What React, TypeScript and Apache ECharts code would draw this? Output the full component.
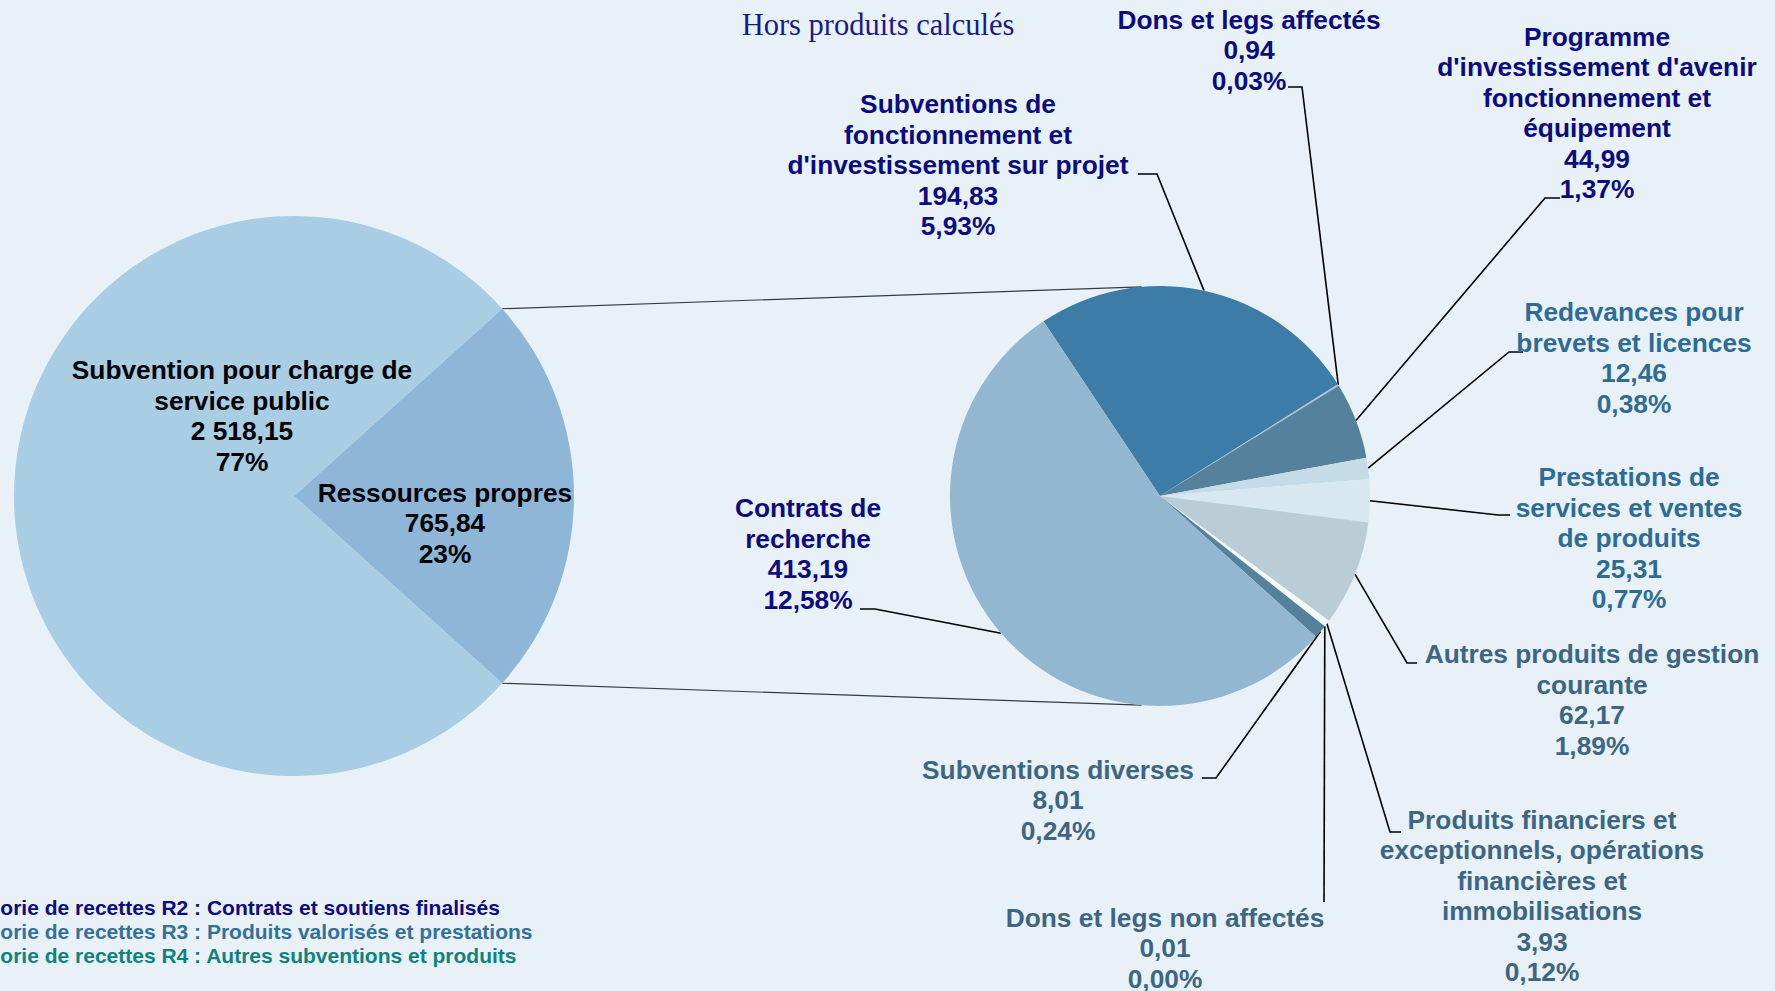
import React, { useEffect, useRef } from 'react';
import * as echarts from 'echarts';

// ---- Data ----
const MAIN_NAMES = ['Ressources propres', 'Subvention pour charge de\nservice public'];
const MAIN_VALUES = [765.84, 2518.15];
const MAIN_COLORS = ['#8DB6D7', '#A9CDE3'];

const DETAIL_NAMES = [
  "Subventions de\nfonctionnement et\nd'investissement sur projet",
  'Dons et legs affectés',
  "Programme\nd'investissement d'avenir\nfonctionnement et\néquipement",
  'Redevances pour\nbrevets et licences',
  'Prestations de\nservices et ventes\nde produits',
  'Autres produits de gestion\ncourante',
  'Produits financiers et\nexceptionnels, opérations\nfinancières et\nimmobilisations',
  'Dons et legs non affectés',
  'Subventions diverses',
  'Contrats de\nrecherche',
];
const DETAIL_VALUES = [194.83, 0.94, 44.99, 12.46, 25.31, 62.17, 3.93, 0.01, 8.01, 413.19];
const DETAIL_GROUPS = ['R2', 'R2', 'R2', 'R3', 'R3', 'R4', 'R4', 'R4', 'R4', 'R2'];
const DETAIL_COLORS = [
  '#3D7CA7', '#A3C4DA', '#55819D', '#C5DBE7', '#D8E8F1',
  '#BACCD5', '#F4F8FA', '#F4F8FA', '#55819D', '#93B7D0',
];

const LEGEND_LINES = [
  'Catégorie de recettes R2 : Contrats et soutiens finalisés',
  'Catégorie de recettes R3 : Produits valorisés et prestations',
  'Catégorie de recettes R4 : Autres subventions et produits',
];
const TITLE = 'Hors produits calculés';

// ---- Styles / layout ----
const GROUP_LABEL_COLORS: Record<string, string> = { R2: '#0B0B7F', R3: '#2E6C95', R4: '#3D6682' };
const LEGEND_COLORS = ['#0B0B7F', '#33709A', '#0F827E'];
const FONT = "'Liberation Sans', Arial, sans-serif";
const BG = '#E8F1F8';

const LEFT = { cx: 294, cy: 496, r: 280 };
const RIGHT = { cx: 1160, cy: 496, r: 210, startAngle: 123.7 };

const LEFT_LABEL_POS = [
  { x: 445, y: 523 },
  { x: 242, y: 416 },
];
const RIGHT_LABEL_POS = [
  { x: 958, y: 165, elbow: [1157, 174], end: [1138, 174] },
  { x: 1249, y: 50, elbow: [1302, 87], end: [1288, 87] },
  { x: 1597, y: 113, elbow: [1545, 198], end: [1560, 198] },
  { x: 1634, y: 358, elbow: [1509, 352], end: [1523, 352] },
  { x: 1629, y: 538, elbow: [1498, 515], end: [1510, 515] },
  { x: 1592, y: 700, elbow: [1407, 663], end: [1417, 663] },
  { x: 1542, y: 896, elbow: [1390, 832], end: [1401, 832] },
  { x: 1165, y: 948, elbow: [1324, 902], end: [1324, 902] },
  { x: 1058, y: 800, elbow: [1216, 778], end: [1202, 778] },
  { x: 808, y: 554, elbow: [875, 609], end: [860, 609] },
];

function fmtNum(v: number): string {
  const [i, d] = v.toFixed(2).split('.');
  const withSep = i.replace(/\B(?=(\d{3})+(?!\d))/g, ' ');
  return `${withSep},${d}`;
}

export default function App() {
  const ref = useRef<HTMLDivElement>(null);

  useEffect(() => {
    document.body.style.margin = '0';
    document.body.style.overflow = 'hidden';
    if (!ref.current) return;
    const chart = echarts.init(ref.current, undefined, { renderer: 'svg' });

    const grand = MAIN_VALUES.reduce((a, b) => a + b, 0);
    const leftStart = (MAIN_VALUES[0] / grand) * 180;
    const toRad = Math.PI / 180;
    const la = leftStart * toRad;
    const ra = 95 * toRad;
    const lx = LEFT.cx + LEFT.r * Math.cos(la);
    const rx = RIGHT.cx + RIGHT.r * Math.cos(ra);

    const mainData = MAIN_NAMES.map((n, i) => ({
      name: n,
      value: MAIN_VALUES[i],
      itemStyle: { color: MAIN_COLORS[i] },
    }));
    const detailData = DETAIL_NAMES.map((n, i) => ({
      name: n,
      value: DETAIL_VALUES[i],
      itemStyle: { color: DETAIL_COLORS[i] },
      label: { color: GROUP_LABEL_COLORS[DETAIL_GROUPS[i]] },
    }));

    const option: any = {
      animation: false,
      backgroundColor: BG,
      series: [
        {
          type: 'pie',
          center: [LEFT.cx, LEFT.cy],
          radius: LEFT.r,
          startAngle: leftStart,
          clockwise: true,
          avoidLabelOverlap: false,
          silent: true,
          data: mainData,
          label: {
            show: true,
            position: 'inside',
            color: '#000',
            fontFamily: FONT,
            fontWeight: 'bold',
            fontSize: 26.3,
            lineHeight: 30.5,
            align: 'center',
            overflow: 'none',
            formatter: (p: any) => `${p.name}\n${fmtNum(p.value)}\n${Math.round((p.value / grand) * 100)}%`,
          },
          labelLine: { show: false },
          labelLayout: (params: any) => {
            const p = LEFT_LABEL_POS[params.dataIndex];
            return { x: p.x, y: p.y, align: 'center', verticalAlign: 'middle' };
          },
        },
        {
          type: 'pie',
          center: [RIGHT.cx, RIGHT.cy],
          radius: RIGHT.r,
          startAngle: RIGHT.startAngle,
          clockwise: true,
          avoidLabelOverlap: false,
          silent: true,
          data: detailData,
          label: {
            show: true,
            position: 'outside',
            fontFamily: FONT,
            fontWeight: 'bold',
            fontSize: 26.3,
            lineHeight: 30.5,
            align: 'center',
            overflow: 'none',
            formatter: (p: any) =>
              `${p.name}\n${fmtNum(p.value)}\n${((p.value / grand) * 100).toFixed(2).replace('.', ',')}%`,
          },
          labelLine: {
            show: true,
            length: 20,
            length2: 10,
            lineStyle: { color: '#000', width: 1.6 },
          },
          labelLayout: (params: any) => {
            const p = RIGHT_LABEL_POS[params.dataIndex];
            const start = params.labelLinePoints ? params.labelLinePoints[0] : p.elbow;
            return {
              x: p.x,
              y: p.y,
              align: 'center',
              verticalAlign: 'middle',
              labelLinePoints: [start, p.elbow, p.end],
            };
          },
        },
      ],
      graphic: [
        {
          type: 'line',
          z: 0,
          silent: true,
          shape: { x1: lx, y1: LEFT.cy - LEFT.r * Math.sin(la), x2: rx, y2: RIGHT.cy - RIGHT.r * Math.sin(ra) },
          style: { stroke: '#3a3a3a', lineWidth: 1.2 },
        },
        {
          type: 'line',
          z: 0,
          silent: true,
          shape: { x1: lx, y1: LEFT.cy + LEFT.r * Math.sin(la), x2: rx, y2: RIGHT.cy + RIGHT.r * Math.sin(ra) },
          style: { stroke: '#3a3a3a', lineWidth: 1.2 },
        },
        {
          type: 'text',
          x: 878,
          y: 25,
          silent: true,
          style: {
            text: TITLE,
            fill: '#1A1A8A',
            font: "30.5px 'Liberation Serif', 'DejaVu Serif', serif",
            textAlign: 'center',
            textVerticalAlign: 'middle',
            align: 'center',
            verticalAlign: 'middle',
          },
        },
        ...LEGEND_LINES.map((t, i) => ({
          type: 'text',
          x: -58,
          y: 907 + i * 24.3,
          silent: true,
          style: {
            text: t,
            fill: LEGEND_COLORS[i],
            font: `bold 21px ${FONT}`,
            textAlign: 'left',
            textVerticalAlign: 'middle',
            align: 'left',
            verticalAlign: 'middle',
          },
        })),
      ],
    };

    chart.setOption(option);
    return () => chart.dispose();
  }, []);

  return <div ref={ref} style={{ width: 1775, height: 991 }} />;
}
